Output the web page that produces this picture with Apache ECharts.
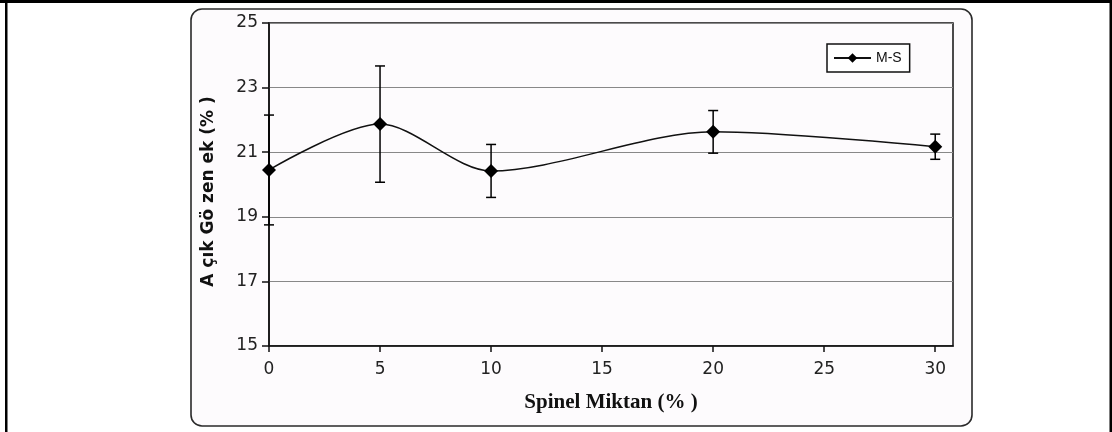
<!DOCTYPE html>
<html>
<head>
<meta charset="utf-8">
<title>Açık Gözenek - Spinel Miktarı</title>
<script src="https://cdn.jsdelivr.net/npm/echarts@6/dist/echarts.min.js"></script>
<style>
  html, body { margin: 0; padding: 0; background: #ffffff; }
  #chart { width: 1112px; height: 432px; }
</style>
</head>
<body>
<div id="chart"></div>
<script>
// Spinel amount (%) and measured open porosity (%) with its deviation
const spinelAmount = [0, 5, 10, 20, 30];
const openPorosity = [20.45, 21.87, 20.42, 21.63, 21.17];
const porosityError = [1.7, 1.8, 0.82, 0.66, 0.39];
const xTickValues = [0, 5, 10, 15, 20, 25, 30];
const seriesName = 'M-S';

const chart = echarts.init(document.getElementById('chart'), null, { renderer: 'canvas' });

const linePoints = spinelAmount.map((x, i) => [x, openPorosity[i]]);
const errorPoints = spinelAmount.map((x, i) => [x, openPorosity[i] - porosityError[i], openPorosity[i] + porosityError[i]]);

const option = {
  animation: false,
  backgroundColor: '#ffffff',
  graphic: [
    // page frame
    { type: 'rect', z: 0, shape: { x: 0, y: 0, width: 1112, height: 3 }, style: { fill: '#000' } },
    { type: 'rect', z: 0, shape: { x: 5, y: 0, width: 2.5, height: 432 }, style: { fill: '#000' } },
    { type: 'rect', z: 0, shape: { x: 1109.5, y: 0, width: 2.5, height: 432 }, style: { fill: '#000' } },
    // rounded chart area
    {
      type: 'rect', z: -1, silent: true,
      shape: { x: 191, y: 9, width: 781, height: 417, r: 11 },
      style: { fill: '#fdfbfd', stroke: '#2a2a2a', lineWidth: 1.6 }
    }
  ],
  grid: {
    left: 269, top: 23, right: 159, bottom: 86,
    show: true, borderColor: '#111', borderWidth: 1.5, backgroundColor: 'transparent'
  },
  legend: {
    left: 827, top: 44,
    orient: 'horizontal',
    backgroundColor: '#ffffff',
    borderColor: '#111', borderWidth: 1.5, borderRadius: 0,
    padding: [7, 8, 7, 6],
    itemWidth: 37, itemHeight: 12, itemGap: 4,
    textStyle: { fontFamily: 'Liberation Sans, Arial, sans-serif', fontSize: 14, color: '#111' },
    data: [seriesName]
  },
  xAxis: {
    type: 'value',
    min: 0, max: 30.8,
    name: 'Spinel Miktan (% )',
    nameLocation: 'middle',
    nameGap: 46,
    nameTextStyle: { fontFamily: 'Liberation Serif, Times New Roman, serif', fontWeight: 'bold', fontSize: 21, color: '#111' },
    axisLine: { lineStyle: { color: '#111', width: 1.5 } },
    axisTick: { show: true, length: 6, lineStyle: { color: '#111', width: 1.5 }, customValues: xTickValues },
    axisLabel: { customValues: xTickValues, margin: 15, fontFamily: 'DejaVu Sans, Arial, sans-serif', fontSize: 17, color: '#222' },
    splitLine: { show: false }
  },
  yAxis: {
    type: 'value',
    min: 15, max: 25, interval: 2,
    name: 'A çık Gö zen ek (% )',
    nameLocation: 'middle',
    nameGap: 52,
    nameTextStyle: { fontFamily: 'DejaVu Sans, Arial, sans-serif', fontWeight: 'bold', fontSize: 17, color: '#111', padding: [0, 0, 0, -14] },
    axisLine: { show: true, lineStyle: { color: '#111', width: 1.5 } },
    axisTick: { show: true, length: 7, lineStyle: { color: '#111', width: 1.5 } },
    axisLabel: { margin: 11, fontFamily: 'DejaVu Sans, Arial, sans-serif', fontSize: 17, color: '#222' },
    splitLine: { show: true, lineStyle: { color: '#888888', width: 1.2 } }
  },
  series: [
    {
      name: seriesName,
      type: 'line',
      data: linePoints,
      smooth: 0.3,
      symbol: 'diamond',
      symbolSize: 14,
      itemStyle: { color: '#000' },
      lineStyle: { color: '#111', width: 1.5 },
      z: 3
    },
    {
      name: 'error',
      type: 'custom',
      data: errorPoints,
      z: 4,
      clip: false,
      encode: { x: 0, y: [1, 2] },
      renderItem: function (params, api) {
        const x = api.value(0);
        const lo = api.coord([x, api.value(1)]);
        const hi = api.coord([x, api.value(2)]);
        const half = 5;
        const style = { stroke: '#000', lineWidth: 1.5 };
        return {
          type: 'group',
          children: [
            { type: 'line', shape: { x1: lo[0], y1: lo[1], x2: hi[0], y2: hi[1] }, style: style },
            { type: 'line', shape: { x1: lo[0] - half, y1: lo[1], x2: lo[0] + half, y2: lo[1] }, style: style },
            { type: 'line', shape: { x1: hi[0] - half, y1: hi[1], x2: hi[0] + half, y2: hi[1] }, style: style }
          ]
        };
      }
    }
  ]
};

chart.setOption(option);
</script>
</body>
</html>
